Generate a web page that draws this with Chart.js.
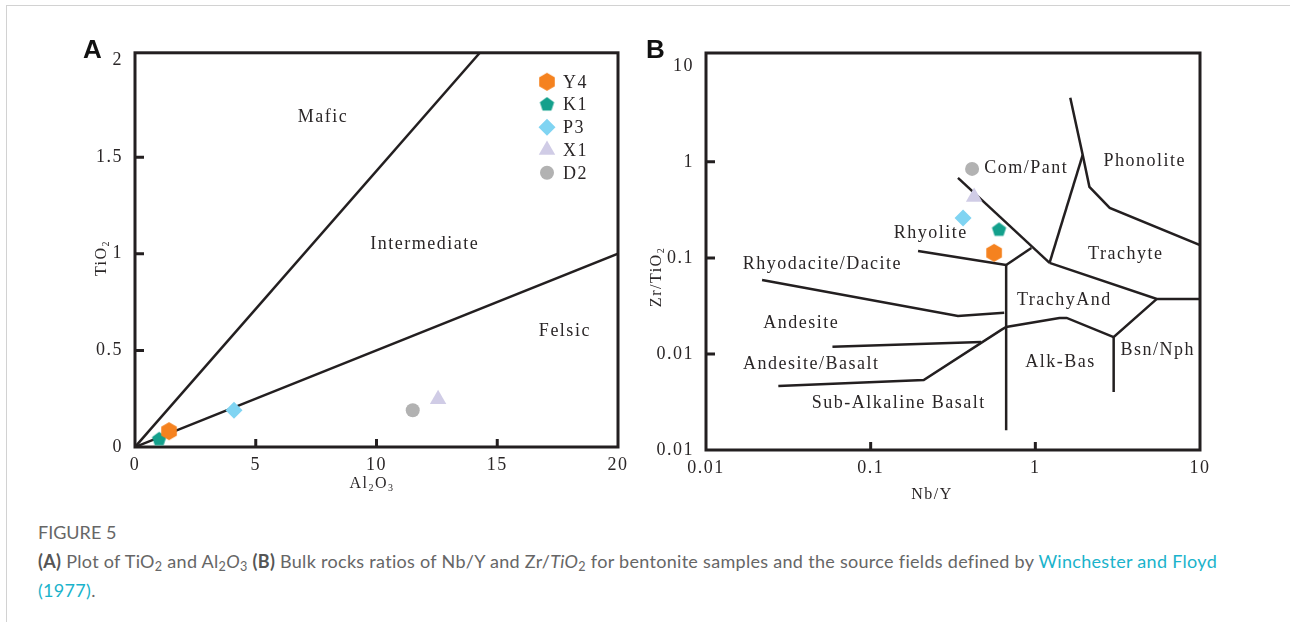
<!DOCTYPE html>
<html>
<head>
<meta charset="utf-8">
<script src="https://cdn.jsdelivr.net/npm/chart.js@4.4.1/dist/chart.umd.min.js"></script>
<style>
  html, body { margin: 0; padding: 0; background: #fff; }
  body { width: 1290px; height: 622px; position: relative; overflow: hidden; font-family: Lato, "Noto Sans", sans-serif; }
  .edge-top { position: absolute; left: 6px; top: 5px; right: 0; height: 1px; background: #d2d2d2; }
  .edge-left { position: absolute; left: 6px; top: 5px; bottom: 0; width: 1px; background: #d2d2d2; }
  canvas { position: absolute; }
  #chartA { left: 60px; top: 30px; }
  #chartB { left: 630px; top: 30px; }
  .caption { position: absolute; left: 38px; top: 518px; color: #666; font-size: 18px; letter-spacing: 0.3px; line-height: 29px; white-space: nowrap; }
  .caption .fig { font-size: 18px; letter-spacing: 0; }
  .caption b { color: #555; }
  .caption sub { font-size: 0.7em; vertical-align: -0.25em; line-height: 0; }
  .caption a { color: #1ab3cb; text-decoration: none; }
</style>
</head>
<body>
<div class="edge-top"></div>
<div class="edge-left"></div>
<canvas id="chartA" width="580" height="470"></canvas>
<canvas id="chartB" width="600" height="480"></canvas>
<div class="caption">
  <div class="fig">FIGURE 5</div>
  <div><b>(A)</b> Plot of TiO<sub>2</sub> and Al<sub>2</sub><i>O</i><sub>3</sub> <b>(B)</b> Bulk rocks ratios of Nb/Y and Zr/<i>TiO</i><sub>2</sub> for bentonite samples and the source fields defined by <a>Winchester and Floyd<br>(1977)</a>.</div>
</div>
<script>
// sample values
const samples = ['Y4', 'K1', 'P3', 'X1', 'D2'];
const al2o3 = [1.41, 1.0, 4.1, 12.55, 11.5];
const tio2 = [0.082, 0.04, 0.19, 0.247, 0.19];
const nbY = [0.562, 0.602, 0.364, 0.425, 0.413];
const zrTiO2 = [0.113, 0.196, 0.261, 0.431, 0.845];

// panel A ticks and field boundaries
const xTicksA = [0, 5, 10, 15, 20];
const xTickLabelsA = ['0', '5', '10', '15', '20'];
const yTicksA = [0, 0.5, 1, 1.5, 2];
const yTickLabelsA = ['0', '0.5', '1', '1.5', '2'];
const maficLine = [[0, 0], [14.28, 2.04]];
const felsicLine = [[0, 0], [20, 1.0]];
const fieldNamesA = ['Mafic', 'Intermediate', 'Felsic'];
const fieldXA = [7.78, 12.0, 17.8];
const fieldYA = [1.706, 1.05, 0.60];

// panel B ticks and field boundaries (Winchester and Floyd 1977)
const xTicksB = [0.01, 0.1, 1, 10];
const xTickLabelsB = ['0.01', '0.1', '1', '10'];
const yTicksB = [0.001, 0.01, 0.1, 1, 10];
const yTickLabelsB = ['0.01', '0.01', '0.1', '1', '10'];
const boundariesB = [
  [[1.63, 4.64], [1.94, 1.18], [2.13, 0.55], [2.83, 0.332], [10, 0.136]],
  [[1.94, 1.18], [1.22, 0.0887]],
  [[0.339, 0.681], [1.22, 0.0887]],
  [[0.946, 0.127], [0.665, 0.0845]],
  [[0.194, 0.118], [0.665, 0.0845]],
  [[0.665, 0.0845], [0.665, 0.00161]],
  [[1.22, 0.0887], [5.47, 0.0374], [10, 0.0374]],
  [[5.47, 0.0374], [2.99, 0.0150], [2.99, 0.00402]],
  [[0.0275, 0.00464], [0.210, 0.00536], [0.621, 0.0178], [0.665, 0.0191], [1.40, 0.0237], [1.55, 0.0237], [2.99, 0.0150]],
  [[0.0586, 0.0119], [0.469, 0.0133]],
  [[0.0219, 0.059], [0.339, 0.0249], [0.647, 0.0269]]
];
const fieldNamesB = ['Com/Pant', 'Phonolite', 'Rhyolite', 'Trachyte', 'Rhyodacite/Dacite', 'TrachyAnd',
  'Andesite', 'Andesite/Basalt', 'Alk-Bas', 'Bsn/Nph', 'Sub-Alkaline Basalt'];
const fieldXB = [0.88, 4.62, 0.232, 3.54, 0.0509, 1.50, 0.0379, 0.0436, 1.42, 5.54, 0.148];
const fieldYB = [0.866, 1.02, 0.182, 0.110, 0.0866, 0.0365, 0.0210, 0.00787, 0.00826, 0.0110, 0.00309];

const INK = '#231f20';
const TEXT = '#2a2627';
const SERIF = '"Liberation Serif", "Times New Roman", serif';
const colors = ['#f5821f', '#13a08c', '#80d4f2', '#d0cce6', '#b2b2b2'];

function polygonMark(sides, r, color) {
  const c = document.createElement('canvas');
  const s = Math.ceil(r * 2) + 2;
  c.width = s; c.height = s;
  const g = c.getContext('2d');
  g.fillStyle = color;
  g.beginPath();
  for (let i = 0; i < sides; i++) {
    const a = -Math.PI / 2 + i * 2 * Math.PI / sides;
    const px = s / 2 + r * Math.cos(a), py = s / 2 + r * Math.sin(a);
    if (i === 0) g.moveTo(px, py); else g.lineTo(px, py);
  }
  g.closePath();
  g.fill();
  return c;
}

const pointStyles = [polygonMark(6, 9, colors[0]), polygonMark(5, 7.5, colors[1]), 'rectRot', 'triangle', 'circle'];
const radii = [8, 8, 8.5, 9.5, 7];

function sampleSets(xs, ys) {
  return samples.map((name, i) => ({
    label: name,
    data: [{ x: xs[i], y: ys[i] }],
    pointStyle: pointStyles[i],
    pointRadius: radii[i],
    backgroundColor: colors[i],
    borderColor: colors[i],
    borderWidth: 0
  }));
}

function boundarySet(pts) {
  return {
    label: '',
    data: pts.map(p => ({ x: p[0], y: p[1] })),
    showLine: true,
    borderColor: INK,
    borderWidth: 2.5,
    pointRadius: 0,
    fill: false
  };
}

function drawRich(ctx, parts, cx, cy, rot) {
  ctx.save();
  ctx.translate(cx, cy);
  ctx.rotate(rot);
  ctx.fillStyle = TEXT;
  ctx.textAlign = 'left';
  ctx.textBaseline = 'alphabetic';
  const big = '16px ' + SERIF, small = '10px ' + SERIF;
  let w = 0;
  parts.forEach(p => { ctx.font = p.sub ? small : big; w += ctx.measureText(p.t).width; });
  let x = -w / 2;
  parts.forEach(p => {
    ctx.font = p.sub ? small : big;
    ctx.fillText(p.t, x, p.sub ? 9 : 5.5);
    x += ctx.measureText(p.t).width;
  });
  ctx.restore();
}

const decor = {
  id: 'decor',
  beforeUpdate(chart) { chart.ctx.letterSpacing = '1.5px'; },
  beforeDraw(chart) { chart.ctx.letterSpacing = '1.5px'; },
  beforeDatasetsDraw(chart, args, o) {
    const { ctx, chartArea: a, scales: { x, y } } = chart;
    ctx.save();
    ctx.strokeStyle = INK;
    ctx.lineWidth = 3;
    ctx.strokeRect(a.left, a.top, a.right - a.left, a.bottom - a.top);
    ctx.beginPath();
    o.innerX.forEach(v => {
      const px = x.getPixelForValue(v);
      ctx.moveTo(px, a.bottom); ctx.lineTo(px, a.bottom - 8);
    });
    o.innerY.forEach(v => {
      const py = y.getPixelForValue(v);
      ctx.moveTo(a.left, py); ctx.lineTo(a.left + 9, py);
    });
    ctx.stroke();
    ctx.fillStyle = TEXT;
    ctx.font = '18px ' + SERIF;
    ctx.textAlign = 'center';
    ctx.textBaseline = 'middle';
    o.names.forEach((n, i) => {
      ctx.fillText(n, x.getPixelForValue(o.fx[i]), y.getPixelForValue(o.fy[i]));
    });
    ctx.restore();
  },
  afterDraw(chart, args, o) {
    const { ctx, chartArea: a } = chart;
    ctx.save();
    ctx.letterSpacing = '0px';
    ctx.fillStyle = '#111';
    ctx.font = 'bold 26px "Liberation Sans", Arial, sans-serif';
    ctx.textAlign = 'left';
    ctx.textBaseline = 'alphabetic';
    ctx.fillText(o.letter[0], o.letter[1], o.letter[2]);
    ctx.restore();
    drawRich(ctx, o.xTitle[0], o.xTitle[1], o.xTitle[2], 0);
    drawRich(ctx, o.yTitle[0], o.yTitle[1], o.yTitle[2], -Math.PI / 2);
    if (o.legend) {
      const lx = a.right - 71, ly = a.top + 29;
      chart.data.datasets.slice(0, samples.length).forEach((ds, i) => {
        const cy = ly + i * 22.75;
        ctx.save();
        ctx.fillStyle = ds.backgroundColor;
        Chart.helpers.drawPoint(ctx, { pointStyle: ds.pointStyle, radius: ds.pointRadius, borderWidth: 0, rotation: 0 }, lx, cy);
        ctx.fillStyle = TEXT;
        ctx.font = '18px ' + SERIF;
        ctx.textAlign = 'left';
        ctx.textBaseline = 'middle';
        ctx.fillText(ds.label, lx + 16, cy + 1);
        ctx.restore();
      });
    }
  }
};

const tickFont = { family: SERIF, size: 18 };

new Chart(document.getElementById('chartA'), {
  type: 'scatter',
  data: { datasets: [...sampleSets(al2o3, tio2), boundarySet(maficLine), boundarySet(felsicLine)] },
  options: {
    responsive: false,
    animation: false,
    events: [],
    layout: { padding: { top: 21, right: 22, left: 0, bottom: 0 } },
    plugins: {
      legend: { display: false },
      tooltip: { enabled: false },
      decor: {
        innerX: [5, 10, 15],
        innerY: [0.5, 1, 1.5],
        names: fieldNamesA, fx: fieldXA, fy: fieldYA,
        letter: ['A', 23, 28],
        xTitle: [[{ t: 'Al' }, { t: '2', sub: true }, { t: 'O' }, { t: '3', sub: true }], 312, 452],
        yTitle: [[{ t: 'TiO' }, { t: '2', sub: true }], 40, 228],
        legend: true
      }
    },
    scales: {
      x: {
        type: 'linear', min: 0, max: 20,
        afterBuildTicks: s => { s.ticks = xTicksA.map(v => ({ value: v })); },
        afterFit: s => { s.height = 53; },
        grid: { display: false, drawTicks: false },
        border: { display: false },
        ticks: { font: tickFont, color: TEXT, padding: 7, callback: (v, i) => xTickLabelsA[i] }
      },
      y: {
        type: 'linear', min: 0, max: 2.04,
        afterBuildTicks: s => { s.ticks = yTicksA.map(v => ({ value: v })); },
        afterFit: s => { s.width = 75; },
        grid: { display: false, drawTicks: false },
        border: { display: false },
        ticks: { font: tickFont, color: TEXT, padding: 12, callback: (v, i) => yTickLabelsA[i] }
      }
    }
  },
  plugins: [decor]
});

new Chart(document.getElementById('chartB'), {
  type: 'scatter',
  data: { datasets: [...sampleSets(nbY, zrTiO2), ...boundariesB.map(boundarySet)] },
  options: {
    responsive: false,
    animation: false,
    events: [],
    layout: { padding: { top: 23, right: 30, left: 0, bottom: 0 } },
    plugins: {
      legend: { display: false },
      tooltip: { enabled: false },
      decor: {
        innerX: [0.1, 1],
        innerY: [0.01, 0.1, 1],
        names: fieldNamesB, fx: fieldXB, fy: fieldYB,
        letter: ['B', 16, 28],
        xTitle: [[{ t: 'Nb/Y' }], 302, 463],
        yTitle: [[{ t: 'Zr/TiO' }, { t: '2', sub: true }], 25, 247],
        legend: false
      }
    },
    scales: {
      x: {
        type: 'logarithmic', min: 0.01, max: 10,
        afterBuildTicks: s => { s.ticks = xTicksB.map(v => ({ value: v })); },
        afterFit: s => { s.height = 60; },
        grid: { display: false, drawTicks: false },
        border: { display: false },
        ticks: { font: tickFont, color: TEXT, padding: 7, callback: (v, i) => xTickLabelsB[i] }
      },
      y: {
        type: 'logarithmic', min: 0.001, max: 13.6,
        afterBuildTicks: s => { s.ticks = yTicksB.map(v => ({ value: v })); },
        afterFit: s => { s.width = 76; },
        grid: { display: false, drawTicks: false },
        border: { display: false },
        ticks: { font: tickFont, color: TEXT, padding: 12, callback: (v, i) => yTickLabelsB[i] }
      }
    }
  },
  plugins: [decor]
});
</script>
</body>
</html>
